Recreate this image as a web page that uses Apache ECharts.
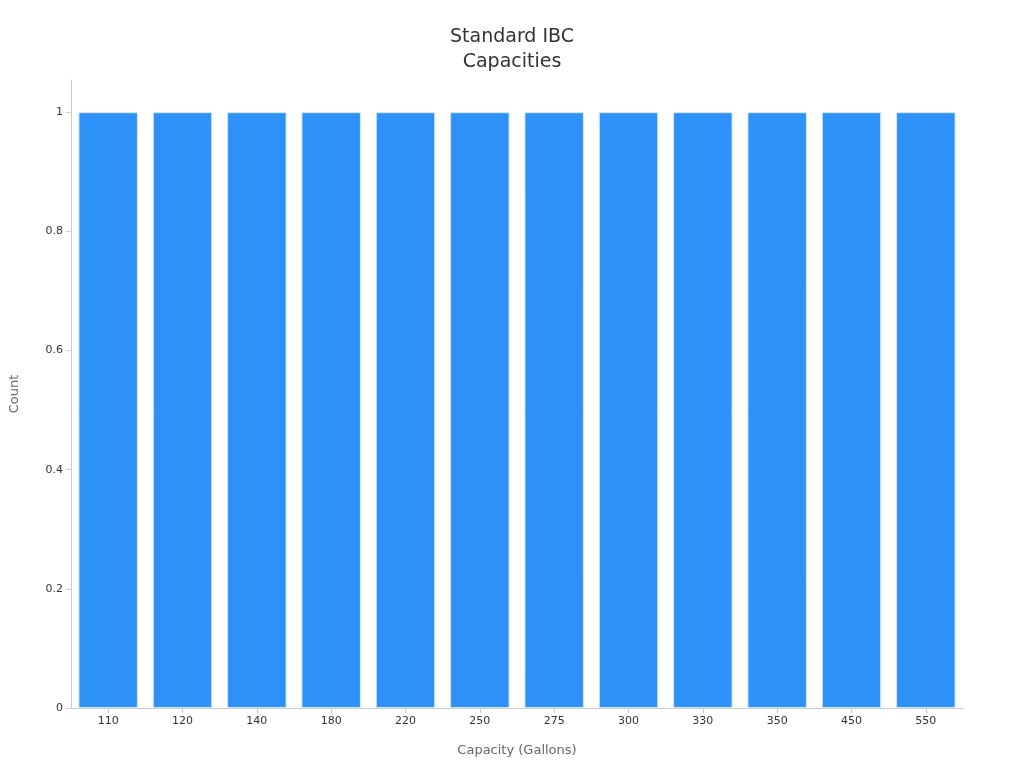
<!DOCTYPE html>
<html><head><meta charset="utf-8">
<script src="https://cdn.jsdelivr.net/npm/echarts@6/dist/echarts.min.js"></script>
<style>html,body{margin:0;padding:0;background:#fff}#c{width:1024px;height:768px}</style>
</head><body><div id="c"></div>
<script>
const categories = ['110','120','140','180','220','250','275','300','330','350','450','550'];
const counts = [1,1,1,1,1,1,1,1,1,1,1,1];
const chart = echarts.init(document.getElementById('c'));
chart.setOption({
  textStyle:{fontFamily:'DejaVu Sans'},
  title:{text:'Standard IBC\nCapacities',left:'center',top:20,textStyle:{fontSize:19,fontWeight:'normal',color:'#333',lineHeight:25,fontFamily:'DejaVu Sans'}},
  grid:{left:64,right:61,top:80,bottom:60,containLabel:false},
  xAxis:{type:'category',data:categories,name:'Capacity (Gallons)',nameLocation:'middle',nameGap:36,
    nameTextStyle:{color:'#666',fontSize:13},
    axisLine:{lineStyle:{color:'#ccc'}},axisTick:{show:true,alignWithLabel:true,lineStyle:{color:'#ccc'}},
    axisLabel:{color:'#333',fontSize:11}},
  yAxis:{type:'value',min:0,max:1.054,interval:0.2,name:'Count',nameLocation:'middle',nameGap:50,
    nameTextStyle:{color:'#666',fontSize:13},
    axisLine:{show:true,lineStyle:{color:'#ccc'}},axisTick:{show:true,lineStyle:{color:'#ccc'}},
    splitLine:{show:false},
    axisLabel:{color:'#333',fontSize:11,showMaxLabel:false,formatter:v=>v>1.01?'':String(+v.toFixed(1))}},
  series:[{type:'bar',data:counts,barCategoryGap:'20%',
    itemStyle:{color:'#2e91f8',borderColor:'#d6e8fb',borderWidth:1}}]
});
</script></body></html>
